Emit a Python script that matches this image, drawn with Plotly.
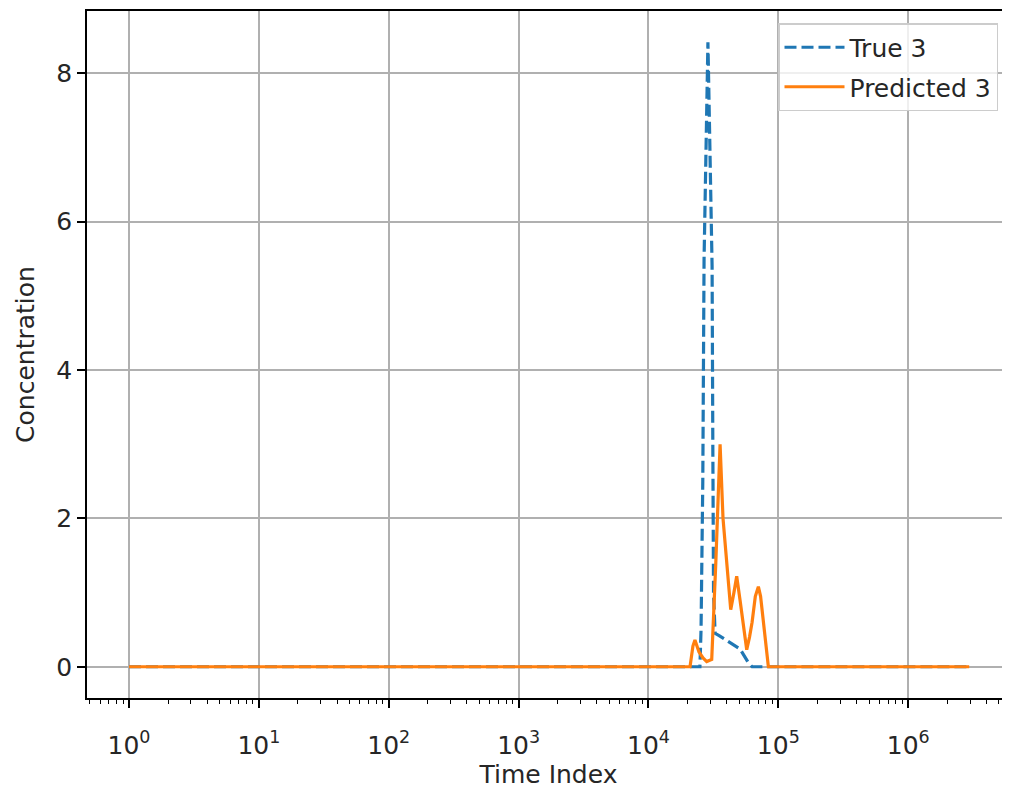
import plotly.graph_objects as go

# series (time index, concentration)
true_x = [1, 24900, 25400, 26200, 26800, 27800, 28700, 29500, 30300, 30900,
          31300, 31700, 32600, 35000, 50700, 58500, 62800, 2950000]
true_y = [0, 0, 0.5, 2.5, 5.5, 7.4, 8.42, 7.3, 6.3, 5.4,
          3.0, 1.0, 0.45, 0.42, 0.24, 0.06, 0, 0]

pred_x = [1, 20900, 22000, 22800, 24500, 26300, 28100, 30700, 33000, 35600,
          37500, 40500, 43000, 45500, 47800, 50700, 54000, 57100, 60000,
          62800, 66500, 70200, 73000, 76300, 80000, 83800, 2950000]
pred_y = [0, 0, 0.28, 0.36, 0.2, 0.12, 0.07, 0.1, 1.4, 3.0,
          2.0, 1.35, 0.77, 1.0, 1.22, 0.9, 0.5, 0.23, 0.4,
          0.6, 0.95, 1.08, 0.95, 0.65, 0.3, 0, 0]

x_tickvals = [1, 10, 100, 1000, 10000, 100000, 1000000]
x_ticktext = ['10<sup>0</sup>', '10<sup>1</sup>', '10<sup>2</sup>', '10<sup>3</sup>',
              '10<sup>4</sup>', '10<sup>5</sup>', '10<sup>6</sup>']
x_minor = [k * 10 ** n for n in range(-1, 7) for k in range(2, 10)]
y_tickvals = [0, 2, 4, 6, 8]

FONT = 'DejaVu Sans'
FS = 25

fig = go.Figure()
fig.add_trace(go.Scatter(
    x=true_x, y=true_y, mode='lines', name='True 3', legendgroup='a',
    line=dict(color='#1f77b4', width=3.2, dash='12px,5px'),
))
fig.add_trace(go.Scatter(
    x=pred_x, y=pred_y, mode='lines', name='Predicted 3', legendgroup='b',
    line=dict(color='#ff7f0e', width=3.2),
))

# page body has an 8px margin, so the figure is sized to the rest of the window
fig.update_layout(
    width=1002, height=782,
    margin=dict(l=79, r=0, t=3, b=92, autoexpand=False),
    paper_bgcolor='white', plot_bgcolor='white',
    font=dict(family=FONT, size=FS, color='#262626'),
    showlegend=True,
    legend=dict(
        x=0.987, y=0.9825, xanchor='right', yanchor='top',
        bgcolor='rgba(255,255,255,0.8)', bordercolor='#cccccc', borderwidth=1.5,
        font=dict(family=FONT, size=FS, color='#262626'),
        itemwidth=60, traceorder='grouped', tracegroupgap=4,
    ),
)

fig.update_xaxes(
    type='log', range=[-0.3236, 6.784], automargin=False,
    tickmode='array', tickvals=x_tickvals, ticktext=x_ticktext,
    ticks='outside', ticklen=8, tickwidth=1.7, tickcolor='black',
    ticklabelstandoff=16,
    showline=True, linecolor='black', linewidth=1.8, mirror=True,
    showgrid=True, gridcolor='#b0b0b0', gridwidth=1.6,
    zeroline=False,
    minor=dict(tickmode='array', tickvals=x_minor, ticks='outside', ticklen=4.5,
               tickwidth=1.3, tickcolor='black', showgrid=False),
    title=dict(text='Time Index', standoff=6, font=dict(size=FS)),
)
fig.update_yaxes(
    range=[-0.421, 8.841], automargin=False,
    tickmode='array', tickvals=y_tickvals,
    ticks='outside', ticklen=8, tickwidth=1.7, tickcolor='black',
    showline=True, linecolor='black', linewidth=1.8, mirror=False,
    showgrid=True, gridcolor='#b0b0b0', gridwidth=1.6,
    zeroline=False,
    title=dict(text='Concentration', standoff=14, font=dict(size=FS)),
)

fig.write_html('out.html')
